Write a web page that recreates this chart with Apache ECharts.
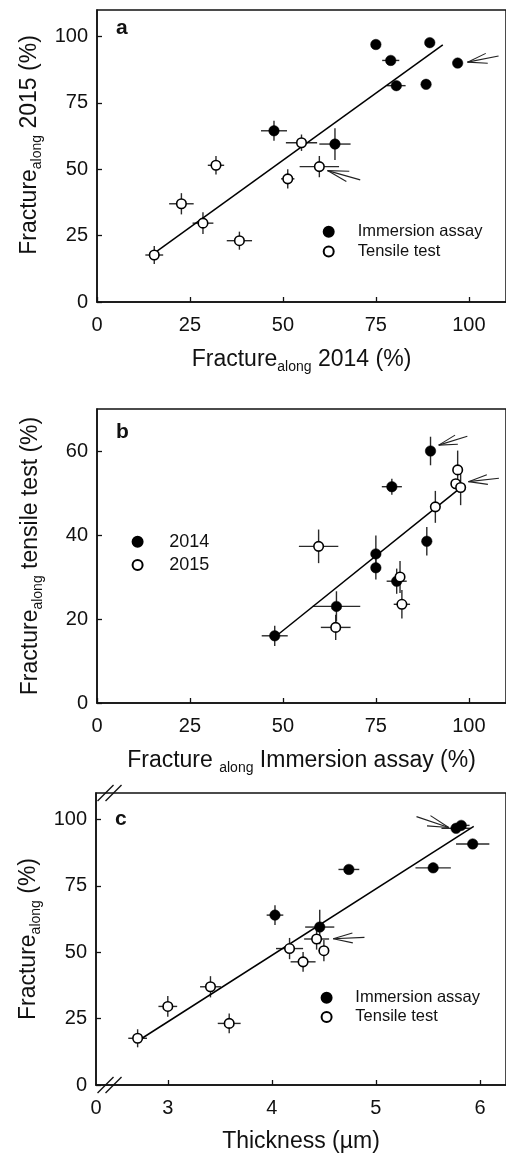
<!DOCTYPE html>
<html>
<head>
<meta charset="utf-8">
<script src="https://cdn.jsdelivr.net/npm/echarts@6/dist/echarts.min.js"></script>
<style>
html,body{margin:0;padding:0;background:#fff;}
#chart{width:506px;height:1155px;}
</style>
</head>
<body>
<div id="chart"></div>
<script>
// ---------- DATA ----------
// each point: [x, y, xError, yError]
// Panel a: Fracture_along 2014 vs 2015
const immersionA = [[75,97,0,0],[89.5,97.7,0,0],[79,91,2.3,0],[97,90,0,0],[80.5,81.5,2.5,0],[88.5,82,1.3,1.8],[47.6,64.5,3.5,3.8],[64,59.5,4.2,6]];
const tensileA = [[55,60,4.2,3.1],[59.8,51,5.3,4],[51.3,46.4,1.8,3.6],[32,51.5,2.2,3.5],[22.7,37,3.3,4],[28.5,29.7,2.8,4.1],[38.3,23.1,3.4,3.4],[15.4,17.7,2.4,3.4]];
const fitA = [[15.4,18.4],[93,96.9]];
// Panel b: immersion assay vs tensile test
const year2014B = [[89.7,60,0,3.4],[79.3,51.5,2.7,1.9],[88.7,38.5,0.8,3.4],[75,35.5,0,4.4],[75,32.2,0,2.8],[80.6,29,2.7,3],[64.4,23,6.4,3.6],[47.8,16,3.5,2.4]];
const year2015B = [[97,55.5,0,4.6],[96.5,52.2,0,0],[97.8,51.3,0,4.2],[91,46.7,0.8,3.8],[59.6,37.3,5.3,4],[81.5,30,0.5,3.8],[82,23.5,2.2,3.4],[64.2,18,4,3]];
const fitB = [[48.7,16.3],[97,50.7]];
// Panel c: thickness vs fracture_along
const immersionC = [[5.77,96.7,0.14,0],[5.82,97.8,0.08,0],[5.93,90.8,0.16,0],[5.55,81.8,0.17,0],[4.74,81.2,0.1,0],[4.03,64,0.08,3.7],[4.46,59.5,0.14,6.5]];
const tensileC = [[4.43,55,0.12,4],[4.5,50.6,0.05,4],[4.17,51.4,0.13,4],[4.3,46.4,0.12,3.7],[3.41,37,0.1,4],[3.0,29.6,0.09,3.9],[3.59,23.2,0.11,3.7],[2.71,17.6,0.09,3.4]];
const fitC = [[2.76,17.8],[5.94,97.4]];

// tick labels
const ticksA = [0,25,50,75,100];
const ticksBy = [0,20,40,60];
const ticksCx = [3,4,5,6];
const ticksCy = [0,25,50,75,100];
const brokenAxisStartC = 2.31; // axis origin of broken thickness axis, labelled "0"

// annotation arrows: [tipX, tipY, tailX, tailY] in data units, per grid
const arrows = [
  {grid:0, a:[99.65,90.35,108,92.7]},
  {grid:0, a:[62,49.5,70.8,46]},
  {grid:1, a:[91.9,61.4,99.6,63.5]},
  {grid:1, a:[99.9,52.7,108.1,53.5]},
  {grid:2, a:[5.70,97.0,5.39,101.1]},
  {grid:2, a:[4.59,55.1,4.89,55.6]}
];

// ---------- STYLE ----------
const FONT = '"Liberation Sans", Arial, Helvetica, sans-serif';
const INK = '#111';
const TICK_FS = 20, TITLE_FS = 23;

function rich() {
  return {
    m: {fontSize: TITLE_FS, fontFamily: FONT, color: INK},
    s: {fontSize: 14, fontFamily: FONT, color: INK, padding: [14,0,0,0]}
  };
}

function valueAxis(gridIndex, min, max, ticks, extra, isX) {
  return Object.assign({
    type: 'value', gridIndex: gridIndex, min: min, max: max,
    splitLine: {show: false},
    axisLine: {show: true, onZero: false, lineStyle: {color: INK, width: 1.5}},
    axisTick: {show: true, inside: true, length: 5, customValues: ticks, lineStyle: {color: INK, width: 1.3}},
    axisLabel: {customValues: ticks, fontSize: TICK_FS, fontFamily: FONT, color: INK, margin: isX ? 13 : 9},
    nameLocation: 'middle',
    nameTextStyle: {rich: rich()}
  }, extra || {});
}

function errBars(gridIndex, data, name) {
  return {
    type: 'custom', xAxisIndex: gridIndex, yAxisIndex: gridIndex, name: name + ' err',
    data: data, z: 2, silent: true,
    renderItem: function (params, api) {
      const x = api.value(0), y = api.value(1), xe = api.value(2), ye = api.value(3);
      const ch = [];
      const st = {stroke: '#2a2a2a', lineWidth: 1.4};
      if (xe > 0) {
        const p1 = api.coord([x - xe, y]), p2 = api.coord([x + xe, y]);
        ch.push({type: 'line', shape: {x1: p1[0], y1: p1[1], x2: p2[0], y2: p2[1]}, style: st});
      }
      if (ye > 0) {
        const p1 = api.coord([x, y - ye]), p2 = api.coord([x, y + ye]);
        ch.push({type: 'line', shape: {x1: p1[0], y1: p1[1], x2: p2[0], y2: p2[1]}, style: st});
      }
      return {type: 'group', children: ch};
    }
  };
}

function pts(gridIndex, data, name, filled) {
  return {
    type: 'scatter', name: name, xAxisIndex: gridIndex, yAxisIndex: gridIndex,
    data: data.map(d => [d[0], d[1]]), z: 5,
    symbol: 'circle', symbolSize: filled ? 10.5 : 9.5,
    itemStyle: filled ? {color: '#000', borderColor: '#000', borderWidth: 0.5, opacity: 1}
                      : {color: '#fff', borderColor: '#000', borderWidth: 1.6, opacity: 1},
    emphasis: {disabled: true}
  };
}

function fitLine(gridIndex, data) {
  return {
    type: 'line', xAxisIndex: gridIndex, yAxisIndex: gridIndex, data: data, z: 3,
    symbol: 'none', lineStyle: {color: '#000', width: 1.5}, silent: true, name: 'fit' + gridIndex
  };
}

function legend(names, left, top, itemWidth, lineHeight, fs) {
  return {
    orient: 'vertical', left: left, top: top, data: names, itemWidth: itemWidth, itemHeight: 10,
    itemGap: 0, padding: 0, selectedMode: false,
    textStyle: {fontSize: fs, fontFamily: FONT, color: INK, lineHeight: lineHeight}
  };
}

const chart = echarts.init(document.getElementById('chart'), null, {renderer: 'canvas'});

const option = {
  backgroundColor: '#fff',
  animation: false,
  title: [
    {text: 'a', left: 116, top: 18, padding: 0, textStyle: {fontSize: 21, fontWeight: 'bold', fontFamily: FONT, color: INK}},
    {text: 'b', left: 116, top: 422, padding: 0, textStyle: {fontSize: 21, fontWeight: 'bold', fontFamily: FONT, color: INK}},
    {text: 'c', left: 115, top: 809, padding: 0, textStyle: {fontSize: 21, fontWeight: 'bold', fontFamily: FONT, color: INK}}
  ],
  grid: [
    {left: 97, top: 10, width: 414, height: 292, show: true, borderColor: INK, borderWidth: 1.5, backgroundColor: 'transparent'},
    {left: 97, top: 409, width: 414, height: 294, show: true, borderColor: INK, borderWidth: 1.5, backgroundColor: 'transparent'},
    {left: 96, top: 793, width: 418, height: 292, show: true, borderColor: INK, borderWidth: 1.5, backgroundColor: 'transparent'}
  ],
  xAxis: [
    valueAxis(0, 0, 110, ticksA, {name: '{m|Fracture}{s|along}{m| 2014 (%)}', nameGap: 44}, true),
    valueAxis(1, 0, 110, ticksA, {name: '{m|Fracture }{s|along}{m| Immersion assay (%)}', nameGap: 44}, true),
    valueAxis(2, brokenAxisStartC, 6.25, ticksCx.slice(), {
      name: '{m|Thickness (µm)}', nameGap: 45,
      axisLabel: {customValues: [brokenAxisStartC].concat(ticksCx), fontSize: TICK_FS, fontFamily: FONT, color: INK, margin: 13,
        formatter: function (v) { return Math.abs(v - brokenAxisStartC) < 1e-6 ? '0' : String(v); }}
    }, true)
  ],
  yAxis: [
    valueAxis(0, 0, 110, ticksA, {name: '{m|Fracture}{s|along}{m| 2015 (%)}', nameGap: 52, nameTextStyle: {rich: rich(), padding: [0,0,0,22]}}),
    valueAxis(1, 0, 70, ticksBy, {name: '{m|Fracture}{s|along}{m| tensile test (%)}', nameGap: 52}),
    valueAxis(2, 0, 110, ticksCy, {name: '{m|Fracture}{s|along}{m| (%)}', nameGap: 52})
  ],
  legend: [
    legend(['Immersion assay', 'Tensile test'], 322.7, 222, 48, 19.6, 16.5),
    legend(['2014', '2015'], 131.6, 530, 53.4, 23.3, 18),
    legend(['Immersion assay ', 'Tensile test '], 320.6, 988, 47.4, 19.3, 16.5)
  ],
  series: [
    errBars(0, immersionA, 'ia'), errBars(0, tensileA, 'ta'), fitLine(0, fitA),
    pts(0, immersionA, 'Immersion assay', true), pts(0, tensileA, 'Tensile test', false),
    errBars(1, year2014B, 'b14'), errBars(1, year2015B, 'b15'), fitLine(1, fitB),
    pts(1, year2014B, '2014', true), pts(1, year2015B, '2015', false),
    errBars(2, immersionC, 'ic'), errBars(2, tensileC, 'tc'), fitLine(2, fitC),
    pts(2, immersionC, 'Immersion assay ', true), pts(2, tensileC, 'Tensile test ', false)
  ]
};
chart.setOption(option);

// ---------- annotations: arrows and axis-break marks ----------
const g = [];
const ARW = {stroke: '#222', lineWidth: 1.1};
arrows.forEach(function (ar) {
  const tip = chart.convertToPixel({gridIndex: ar.grid}, [ar.a[0], ar.a[1]]);
  const tail = chart.convertToPixel({gridIndex: ar.grid}, [ar.a[2], ar.a[3]]);
  const dx = tail[0] - tip[0], dy = tail[1] - tip[1];
  const len = Math.sqrt(dx * dx + dy * dy);
  const ang = Math.atan2(dy, dx);
  g.push({type: 'line', shape: {x1: tip[0], y1: tip[1], x2: tail[0], y2: tail[1]}, style: ARW, z: 10});
  [-0.25, 0.25].forEach(function (d) {
    const bl = len * 0.64;
    g.push({type: 'line', shape: {x1: tip[0], y1: tip[1], x2: tip[0] + bl * Math.cos(ang + d), y2: tip[1] + bl * Math.sin(ang + d)}, style: ARW, z: 10});
  });
});
// break marks on broken thickness axis (bottom and top frame lines)
const bx = chart.convertToPixel({gridIndex: 2}, [2.44, 0]);
const topY = chart.convertToPixel({gridIndex: 2}, [2.44, 110])[1];
[bx[1], topY].forEach(function (yy) {
  [-4, 4].forEach(function (off) {
    g.push({type: 'line', shape: {x1: bx[0] + off - 8, y1: yy + 8, x2: bx[0] + off + 8, y2: yy - 8},
      style: {stroke: '#111', lineWidth: 1.3}, z: 10});
  });
});
chart.setOption({graphic: g});
</script>
</body>
</html>
